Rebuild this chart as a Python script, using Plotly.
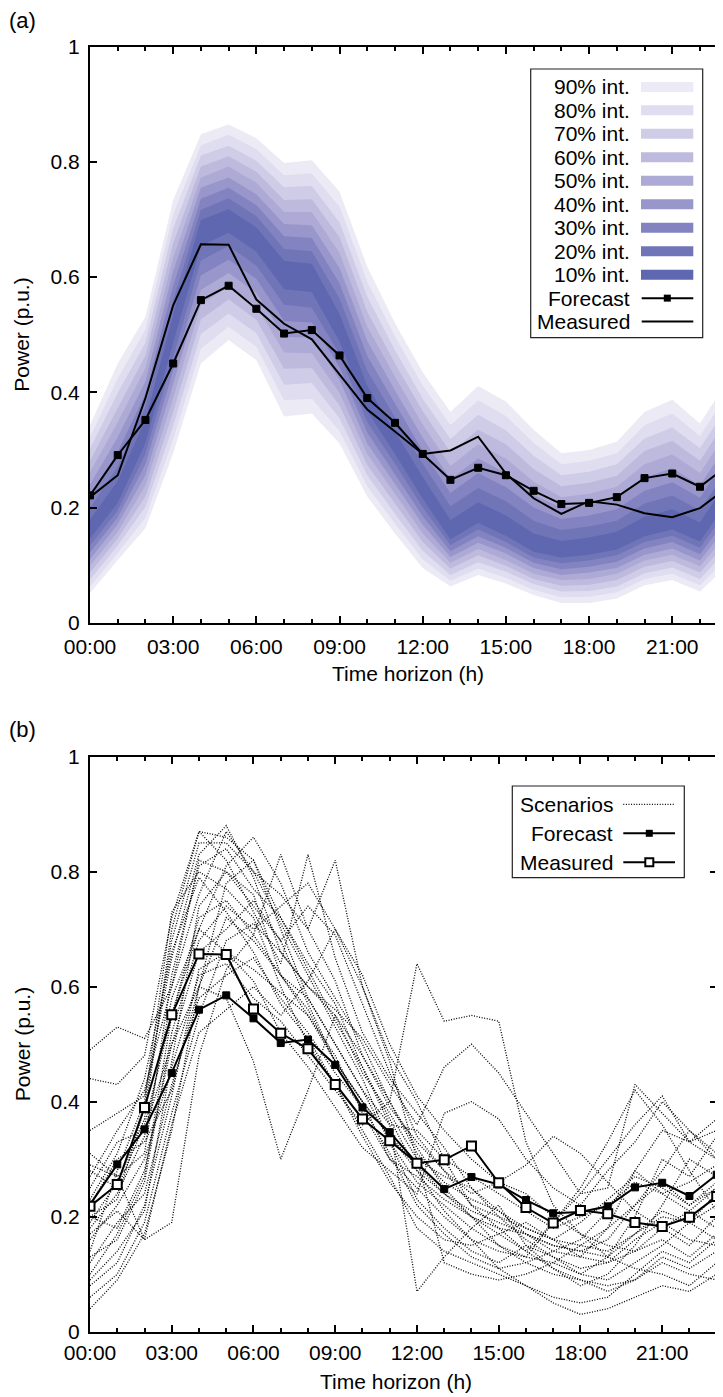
import plotly.graph_objects as go

# ---------------- data ----------------
hours = list(range(24))
tick_hours = [0, 3, 6, 9, 12, 15, 18, 21]
tick_labels = ["00:00", "03:00", "06:00", "09:00", "12:00", "15:00", "18:00", "21:00"]
y_ticks = [0, 0.2, 0.4, 0.6, 0.8, 1.0]
y_tick_labels = ["0", "0.2", "0.4", "0.6", "0.8", "1"]

forecast = [0.221, 0.291, 0.352, 0.450, 0.560, 0.585, 0.545, 0.502, 0.508, 0.464, 0.390, 0.347,
            0.293, 0.248, 0.269, 0.256, 0.229, 0.206, 0.208, 0.218, 0.251, 0.259, 0.236, 0.273]
measured = [0.218, 0.256, 0.390, 0.551, 0.657, 0.656, 0.561, 0.519, 0.492, 0.430, 0.370, 0.332,
            0.293, 0.299, 0.323, 0.259, 0.216, 0.189, 0.211, 0.205, 0.190, 0.183, 0.199, 0.235]

interval_names = ["90% int.", "80% int.", "70% int.", "60% int.", "50% int.",
                  "40% int.", "30% int.", "20% int.", "10% int."]
interval_colors = ["#ebeaf5", "#dfddef", "#cecce7", "#bdbade", "#adaad6",
                   "#9896cb", "#8383c2", "#7075b8", "#5f67b0"]

lo10 = [0.146, 0.208, 0.312, 0.486, 0.654, 0.677, 0.644, 0.579, 0.574, 0.488, 0.367, 0.293, 0.215, 0.145, 0.173, 0.151, 0.123, 0.113, 0.118, 0.127, 0.150, 0.162, 0.141, 0.211]
hi10 = [0.179, 0.246, 0.352, 0.535, 0.699, 0.718, 0.686, 0.628, 0.623, 0.536, 0.411, 0.333, 0.253, 0.178, 0.209, 0.186, 0.155, 0.142, 0.148, 0.158, 0.184, 0.197, 0.174, 0.247]
lo20 = [0.134, 0.195, 0.293, 0.462, 0.629, 0.654, 0.620, 0.552, 0.547, 0.466, 0.348, 0.276, 0.200, 0.135, 0.162, 0.140, 0.113, 0.103, 0.108, 0.117, 0.140, 0.151, 0.130, 0.197]
hi20 = [0.199, 0.271, 0.375, 0.560, 0.717, 0.737, 0.706, 0.649, 0.645, 0.563, 0.437, 0.357, 0.276, 0.202, 0.234, 0.211, 0.177, 0.161, 0.167, 0.177, 0.207, 0.221, 0.195, 0.268]
lo30 = [0.122, 0.183, 0.275, 0.438, 0.603, 0.630, 0.597, 0.524, 0.521, 0.444, 0.330, 0.258, 0.185, 0.124, 0.150, 0.130, 0.104, 0.093, 0.097, 0.106, 0.129, 0.140, 0.119, 0.183]
hi30 = [0.220, 0.297, 0.397, 0.585, 0.736, 0.755, 0.725, 0.671, 0.668, 0.589, 0.463, 0.380, 0.298, 0.225, 0.260, 0.235, 0.200, 0.180, 0.186, 0.197, 0.229, 0.244, 0.217, 0.290]
lo40 = [0.110, 0.171, 0.256, 0.414, 0.578, 0.607, 0.573, 0.496, 0.495, 0.422, 0.311, 0.241, 0.170, 0.114, 0.139, 0.120, 0.095, 0.083, 0.087, 0.095, 0.118, 0.129, 0.108, 0.169]
hi40 = [0.240, 0.322, 0.419, 0.610, 0.755, 0.773, 0.744, 0.692, 0.690, 0.616, 0.489, 0.403, 0.321, 0.249, 0.285, 0.260, 0.222, 0.199, 0.205, 0.216, 0.252, 0.268, 0.238, 0.312]
lo50 = [0.099, 0.158, 0.238, 0.390, 0.552, 0.584, 0.550, 0.469, 0.468, 0.399, 0.293, 0.224, 0.155, 0.104, 0.128, 0.109, 0.085, 0.074, 0.076, 0.085, 0.108, 0.118, 0.098, 0.156]
hi50 = [0.261, 0.348, 0.442, 0.634, 0.773, 0.792, 0.764, 0.713, 0.713, 0.642, 0.514, 0.427, 0.344, 0.272, 0.310, 0.285, 0.245, 0.218, 0.224, 0.236, 0.275, 0.292, 0.260, 0.333]
lo60 = [0.087, 0.146, 0.219, 0.366, 0.527, 0.561, 0.526, 0.441, 0.442, 0.377, 0.274, 0.207, 0.140, 0.094, 0.117, 0.099, 0.076, 0.064, 0.066, 0.074, 0.097, 0.107, 0.087, 0.142]
hi60 = [0.281, 0.373, 0.464, 0.659, 0.792, 0.810, 0.783, 0.734, 0.735, 0.669, 0.540, 0.450, 0.367, 0.296, 0.335, 0.310, 0.267, 0.237, 0.243, 0.255, 0.298, 0.316, 0.281, 0.355]
lo70 = [0.075, 0.134, 0.201, 0.342, 0.501, 0.537, 0.503, 0.413, 0.416, 0.355, 0.256, 0.189, 0.125, 0.083, 0.105, 0.089, 0.067, 0.054, 0.055, 0.063, 0.086, 0.096, 0.076, 0.128]
hi70 = [0.302, 0.399, 0.486, 0.684, 0.811, 0.828, 0.802, 0.756, 0.758, 0.695, 0.566, 0.473, 0.389, 0.319, 0.361, 0.334, 0.290, 0.256, 0.262, 0.275, 0.320, 0.339, 0.303, 0.377]
lo80 = [0.063, 0.121, 0.182, 0.318, 0.476, 0.514, 0.479, 0.386, 0.389, 0.333, 0.237, 0.172, 0.110, 0.073, 0.094, 0.078, 0.057, 0.044, 0.045, 0.053, 0.076, 0.085, 0.065, 0.114]
hi80 = [0.322, 0.424, 0.509, 0.709, 0.829, 0.847, 0.822, 0.777, 0.780, 0.722, 0.592, 0.497, 0.412, 0.343, 0.386, 0.359, 0.312, 0.275, 0.281, 0.294, 0.343, 0.363, 0.324, 0.398]
lo90 = [0.051, 0.109, 0.164, 0.294, 0.450, 0.491, 0.456, 0.358, 0.363, 0.311, 0.219, 0.155, 0.095, 0.063, 0.083, 0.068, 0.048, 0.034, 0.034, 0.042, 0.065, 0.074, 0.054, 0.100]
hi90 = [0.343, 0.450, 0.531, 0.734, 0.848, 0.865, 0.841, 0.798, 0.803, 0.748, 0.618, 0.520, 0.435, 0.366, 0.411, 0.384, 0.335, 0.294, 0.300, 0.314, 0.366, 0.387, 0.346, 0.420]

scenario_01 = [0.49, 0.53, 0.51, 0.60, 0.82, 0.80, 0.76, 0.62, 0.56, 0.47, 0.40, 0.34, 0.29, 0.24, 0.20, 0.18, 0.17, 0.15, 0.14, 0.16, 0.22, 0.26, 0.22, 0.25]
scenario_02 = [0.44, 0.43, 0.48, 0.72, 0.87, 0.86, 0.82, 0.70, 0.58, 0.50, 0.42, 0.33, 0.26, 0.22, 0.18, 0.15, 0.13, 0.12, 0.10, 0.13, 0.20, 0.30, 0.27, 0.34]
scenario_03 = [0.35, 0.38, 0.41, 0.65, 0.83, 0.88, 0.79, 0.66, 0.60, 0.55, 0.45, 0.38, 0.30, 0.27, 0.25, 0.21, 0.17, 0.14, 0.13, 0.18, 0.28, 0.35, 0.33, 0.30]
scenario_04 = [0.28, 0.25, 0.36, 0.55, 0.72, 0.75, 0.69, 0.83, 0.70, 0.61, 0.48, 0.39, 0.33, 0.28, 0.22, 0.20, 0.18, 0.16, 0.15, 0.14, 0.17, 0.20, 0.19, 0.22]
scenario_05 = [0.22, 0.30, 0.33, 0.42, 0.60, 0.72, 0.68, 0.62, 0.58, 0.50, 0.42, 0.36, 0.35, 0.30, 0.27, 0.24, 0.21, 0.18, 0.20, 0.22, 0.26, 0.24, 0.21, 0.25]
scenario_06 = [0.19, 0.26, 0.37, 0.70, 0.87, 0.82, 0.73, 0.64, 0.83, 0.65, 0.52, 0.44, 0.38, 0.32, 0.25, 0.20, 0.16, 0.13, 0.11, 0.12, 0.16, 0.19, 0.16, 0.15]
scenario_07 = [0.16, 0.22, 0.30, 0.46, 0.62, 0.64, 0.58, 0.54, 0.48, 0.42, 0.36, 0.40, 0.64, 0.54, 0.55, 0.54, 0.33, 0.22, 0.17, 0.15, 0.14, 0.16, 0.13, 0.17]
scenario_08 = [0.14, 0.28, 0.40, 0.73, 0.80, 0.77, 0.72, 0.60, 0.50, 0.43, 0.35, 0.27, 0.18, 0.14, 0.12, 0.10, 0.08, 0.06, 0.05, 0.06, 0.10, 0.14, 0.12, 0.16]
scenario_09 = [0.10, 0.17, 0.27, 0.55, 0.70, 0.81, 0.86, 0.78, 0.66, 0.58, 0.50, 0.40, 0.32, 0.25, 0.20, 0.15, 0.12, 0.10, 0.09, 0.08, 0.09, 0.12, 0.10, 0.09]
scenario_10 = [0.06, 0.10, 0.19, 0.38, 0.55, 0.68, 0.71, 0.66, 0.60, 0.56, 0.51, 0.43, 0.36, 0.46, 0.50, 0.45, 0.38, 0.31, 0.24, 0.25, 0.43, 0.38, 0.33, 0.35]
scenario_11 = [0.04, 0.09, 0.17, 0.35, 0.60, 0.78, 0.82, 0.72, 0.63, 0.54, 0.46, 0.37, 0.28, 0.21, 0.16, 0.11, 0.08, 0.05, 0.03, 0.04, 0.06, 0.08, 0.07, 0.10]
scenario_12 = [0.20, 0.23, 0.39, 0.68, 0.85, 0.85, 0.80, 0.76, 0.70, 0.82, 0.60, 0.48, 0.40, 0.30, 0.22, 0.18, 0.14, 0.19, 0.24, 0.30, 0.36, 0.41, 0.33, 0.37]
scenario_13 = [0.25, 0.33, 0.35, 0.50, 0.66, 0.70, 0.75, 0.68, 0.74, 0.69, 0.57, 0.45, 0.34, 0.28, 0.24, 0.26, 0.29, 0.34, 0.31, 0.26, 0.21, 0.18, 0.15, 0.20]
scenario_14 = [0.12, 0.19, 0.24, 0.43, 0.58, 0.62, 0.65, 0.58, 0.52, 0.45, 0.39, 0.31, 0.22, 0.17, 0.13, 0.11, 0.12, 0.14, 0.16, 0.21, 0.28, 0.24, 0.26, 0.29]
scenario_15 = [0.31, 0.27, 0.31, 0.62, 0.81, 0.84, 0.77, 0.72, 0.64, 0.57, 0.46, 0.36, 0.07, 0.13, 0.18, 0.22, 0.15, 0.11, 0.08, 0.10, 0.15, 0.22, 0.30, 0.27]
scenario_16 = [0.17, 0.21, 0.16, 0.36, 0.52, 0.56, 0.60, 0.55, 0.61, 0.70, 0.62, 0.50, 0.41, 0.35, 0.30, 0.26, 0.24, 0.20, 0.17, 0.13, 0.11, 0.10, 0.08, 0.12]
scenario_17 = [0.09, 0.14, 0.21, 0.47, 0.74, 0.80, 0.74, 0.68, 0.57, 0.47, 0.40, 0.30, 0.25, 0.20, 0.16, 0.14, 0.13, 0.19, 0.25, 0.33, 0.42, 0.36, 0.28, 0.21]
scenario_18 = [0.23, 0.31, 0.44, 0.66, 0.79, 0.73, 0.66, 0.57, 0.51, 0.43, 0.34, 0.26, 0.20, 0.16, 0.15, 0.17, 0.19, 0.16, 0.13, 0.12, 0.14, 0.18, 0.21, 0.18]
scenario_19 = [0.13, 0.16, 0.26, 0.52, 0.68, 0.74, 0.70, 0.74, 0.78, 0.70, 0.60, 0.47, 0.30, 0.12, 0.10, 0.09, 0.10, 0.12, 0.15, 0.18, 0.22, 0.28, 0.35, 0.31]
scenario_20 = [0.27, 0.35, 0.42, 0.60, 0.76, 0.87, 0.80, 0.71, 0.62, 0.53, 0.44, 0.33, 0.23, 0.18, 0.14, 0.12, 0.15, 0.13, 0.10, 0.09, 0.12, 0.15, 0.19, 0.24]
scenario_21 = [0.18, 0.24, 0.34, 0.58, 0.70, 0.66, 0.61, 0.52, 0.46, 0.39, 0.32, 0.28, 0.24, 0.38, 0.40, 0.37, 0.30, 0.25, 0.22, 0.28, 0.33, 0.40, 0.35, 0.30]
scenario_22 = [0.08, 0.12, 0.22, 0.41, 0.63, 0.66, 0.63, 0.59, 0.55, 0.48, 0.38, 0.30, 0.27, 0.23, 0.20, 0.17, 0.14, 0.11, 0.09, 0.07, 0.09, 0.13, 0.11, 0.14]
scenario_23 = [0.29, 0.27, 0.16, 0.19, 0.48, 0.63, 0.69, 0.62, 0.55, 0.47, 0.40, 0.34, 0.28, 0.24, 0.21, 0.19, 0.17, 0.15, 0.14, 0.13, 0.17, 0.21, 0.19, 0.16]
scenario_24 = [0.20, 0.18, 0.28, 0.50, 0.60, 0.58, 0.47, 0.30, 0.42, 0.55, 0.48, 0.40, 0.31, 0.26, 0.23, 0.21, 0.18, 0.16, 0.19, 0.23, 0.27, 0.25, 0.22, 0.26]

# ---------------- layout constants ----------------
# The page body has an 8px margin, so the figure starts at (8, 8) in the window.
OFF = 8
W, H = 723 - OFF, 1397 - OFF
FONT = "Liberation Sans, Arial, Helvetica, sans-serif"
FS = 21


def px(x):
    return (x - OFF) / W


def py(y):
    return 1 - (y - OFF) / H


bands = [(lo90, hi90), (lo80, hi80), (lo70, hi70), (lo60, hi60), (lo50, hi50),
         (lo40, hi40), (lo30, hi30), (lo20, hi20), (lo10, hi10)]
scenarios = [scenario_01, scenario_02, scenario_03, scenario_04, scenario_05, scenario_06,
             scenario_07, scenario_08, scenario_09, scenario_10, scenario_11, scenario_12,
             scenario_13, scenario_14, scenario_15, scenario_16, scenario_17, scenario_18,
             scenario_19, scenario_20, scenario_21, scenario_22, scenario_23, scenario_24]

fig = go.Figure()

fc_marker = dict(symbol="square", size=7, color="black", line=dict(color="black", width=1))

# ---- panel (a): fan chart ----
for (lo, hi), col in zip(bands, interval_colors):
    fig.add_trace(go.Scatter(x=hours + hours[::-1], y=hi + lo[::-1], fill="toself",
                             fillcolor=col, line=dict(width=0), mode="lines",
                             hoverinfo="skip", showlegend=False, xaxis="x", yaxis="y"))

fig.add_trace(go.Scatter(x=hours, y=measured, mode="lines", line=dict(color="black", width=2),
                         showlegend=False, xaxis="x", yaxis="y"))
fig.add_trace(go.Scatter(x=hours, y=forecast, mode="lines+markers",
                         line=dict(color="black", width=2), marker=fc_marker,
                         showlegend=False, xaxis="x", yaxis="y"))

# ---- panel (b): scenarios ----
for s in scenarios:
    fig.add_trace(go.Scatter(x=hours, y=s, mode="lines",
                             line=dict(color="black", width=1.3, dash="1px,1.6px"),
                             showlegend=False, xaxis="x2", yaxis="y2"))
fig.add_trace(go.Scatter(x=hours, y=forecast, mode="lines+markers",
                         line=dict(color="black", width=2), marker=fc_marker,
                         showlegend=False, xaxis="x2", yaxis="y2"))
fig.add_trace(go.Scatter(x=hours, y=measured, mode="lines+markers",
                         line=dict(color="black", width=2),
                         marker=dict(symbol="square", size=9, color="white",
                                     line=dict(color="black", width=2)),
                         showlegend=False, xaxis="x2", yaxis="y2"))

axis_common = dict(showline=True, linecolor="black", linewidth=2, showgrid=False,
                   zeroline=False, ticks="inside", tickcolor="black", tickwidth=1.5,
                   automargin=False,
                   tickfont=dict(family=FONT, size=FS, color="black"))

xa = dict(axis_common, tickmode="array", tickvals=tick_hours, ticktext=tick_labels,
          ticklen=7,
          minor=dict(tickmode="linear", tick0=0, dtick=1, ticks="inside", ticklen=4,
                     tickwidth=1.5, tickcolor="black"))
ya = dict(axis_common, tickmode="array", tickvals=y_ticks, ticktext=y_tick_labels,
          ticklen=7, range=[0, 1])

fig.update_layout(
    template="none",
    width=W, height=H, autosize=False,
    margin=dict(l=0, r=0, t=0, b=0, pad=0),
    paper_bgcolor="white", plot_bgcolor="white",
    font=dict(family=FONT, size=FS, color="black"),
    xaxis=dict(xa, domain=[px(90), 1.0], range=[0, 22.83], anchor="y", mirror="ticks",
               ticklabelstandoff=4),
    yaxis=dict(ya, domain=[py(622.7), py(46.7)], anchor="x", mirror=False,
               ticklabelstandoff=4),
    yaxis3=dict(overlaying="y", side="right", anchor="x", range=[0, 1], tickmode="array",
                tickvals=y_ticks, ticks="inside", ticklen=4, tickwidth=1.5,
                tickcolor="black", showticklabels=False, showline=False,
                showgrid=False, zeroline=False, automargin=False),
    xaxis2=dict(xa, domain=[px(90), px(716.7)], range=[0, 23], anchor="y2", mirror="ticks",
                ticklabelstandoff=1),
    yaxis2=dict(ya, domain=[py(1331.7), py(756.7)], anchor="x2", mirror="ticks",
                ticklabelstandoff=4),
)

# ---- annotations: panel labels and axis titles ----
ann = []


def text(t, x, y, size=FS, xanchor="center", angle=0):
    ann.append(dict(text=t, x=px(x), y=py(y), xref="paper", yref="paper", showarrow=False,
                    xanchor=xanchor, yanchor="middle", textangle=angle,
                    font=dict(family=FONT, size=size, color="black")))


text("(a)", 22.5, 20, size=22)
text("(b)", 22.5, 729, size=22)
text("Power (p.u.)", 22, 334.7, angle=-90)
text("Power (p.u.)", 22, 1044.2, angle=-90)
text("Time horizon (h)", 408, 673)
text("Time horizon (h)", 396, 1381)

shapes = []


def rect(x0, y0, x1, y1, fill=None, lw=0, lc="black"):
    shapes.append(dict(type="rect", xref="paper", yref="paper", x0=px(x0), x1=px(x1),
                       y0=py(y1), y1=py(y0), fillcolor=fill if fill else "rgba(0,0,0,0)",
                       line=dict(width=lw, color=lc), layer="above"))


def hline(x0, x1, y, lw=2, dash="solid"):
    shapes.append(dict(type="line", xref="paper", yref="paper", x0=px(x0), x1=px(x1),
                       y0=py(y), y1=py(y), line=dict(width=lw, color="black", dash=dash),
                       layer="above"))


# legend (a)
rect(530.7, 69, 702.7, 337.7, fill="white", lw=1.2, lc="#222222")
row0, step = 86.9, 23.47
for i, (name, col) in enumerate(zip(interval_names, interval_colors)):
    yc = row0 + i * step
    text(name, 631.7, yc, xanchor="right")
    rect(641, yc - 5, 693.3, yc + 5, fill=col)
yf = row0 + 9 * step
text("Forecast", 631.7, yf, xanchor="right")
hline(641.7, 693.3, yf)
rect(663.8, yf - 3.5, 670.8, yf + 3.5, fill="black")
ym = row0 + 10 * step
text("Measured", 631.7, ym, xanchor="right")
hline(641.7, 693.3, ym)

# legend (b)
rect(512.3, 786, 684.3, 877.7, fill="white", lw=1.2, lc="#222222")
rows_b = [804.3, 833.3, 862.3]
text("Scenarios", 615, rows_b[0], xanchor="right")
hline(623.3, 675, rows_b[0], lw=1.3, dash="1px,1.6px")
text("Forecast", 615, rows_b[1], xanchor="right")
hline(623.3, 675, rows_b[1])
rect(645.8, rows_b[1] - 3.5, 652.8, rows_b[1] + 3.5, fill="black")
text("Measured", 615, rows_b[2], xanchor="right")
hline(623.3, 675, rows_b[2])
rect(645.3, rows_b[2] - 4, 653.3, rows_b[2] + 4, fill="white", lw=2)

fig.update_layout(annotations=ann, shapes=shapes)

fig.write_html("out.html")
